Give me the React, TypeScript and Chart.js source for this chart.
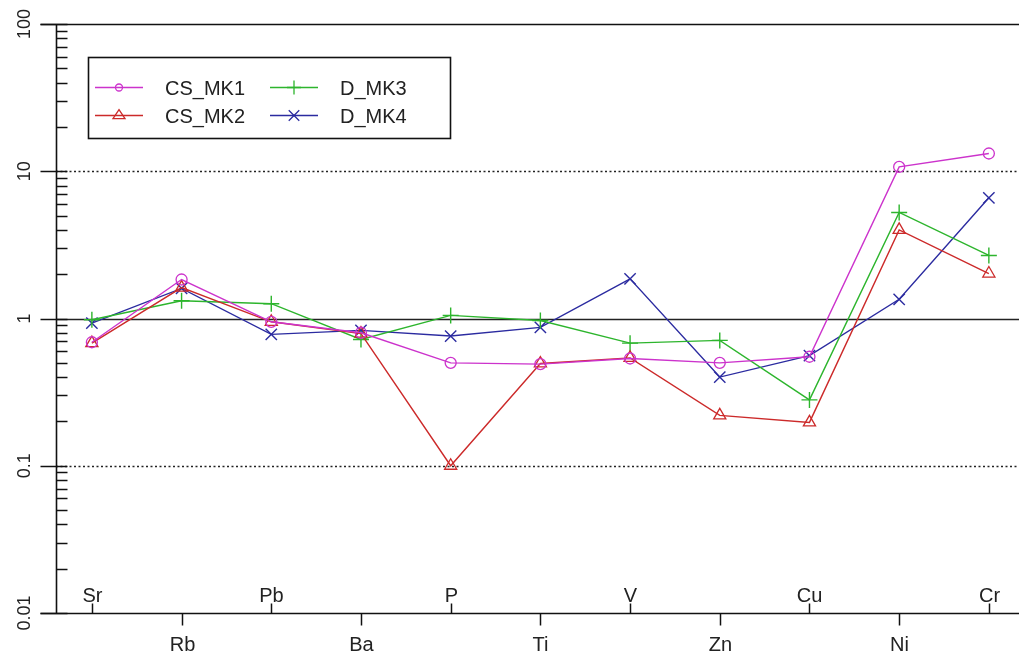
import React, { useEffect, useRef } from "react";
import { Chart, registerables } from "chart.js";
Chart.register(...registerables);

const categories = ["Sr", "Rb", "Pb", "Ba", "P", "Ti", "V", "Zn", "Cu", "Ni", "Cr"];
const csMk1 = [0.69, 1.84, 0.95, 0.8, 0.5, 0.49, 0.535, 0.5, 0.55, 10.7, 13.2];
const csMk2 = [0.68, 1.62, 0.95, 0.79, 0.1, 0.495, 0.54, 0.22, 0.197, 4.0, 2.02];
const dMk3 = [0.98, 1.32, 1.26, 0.72, 1.05, 0.97, 0.68, 0.71, 0.28, 5.25, 2.68];
const dMk4 = [0.93, 1.6, 0.78, 0.83, 0.76, 0.87, 1.86, 0.4, 0.56, 1.35, 6.6];
const seriesLabels = ["CS_MK1", "CS_MK2", "D_MK3", "D_MK4"];
const yTickValues = [0.01, 0.1, 1, 10, 100];
const yTickLabels = ["0.01", "0.1", "1", "10", "100"];
const dottedRefLines = [0.1, 10];
const solidRefLines = [1];

const FONT = '"Liberation Sans", Arial, sans-serif';

function drawMarker(ctx: CanvasRenderingContext2D, style: string, cx: number, cy: number, r: number, color: string) {
  ctx.save();
  ctx.strokeStyle = color;
  ctx.lineWidth = 1.3;
  ctx.beginPath();
  if (style === "circle") {
    ctx.arc(cx, cy, r, 0, Math.PI * 2);
  } else if (style === "triangle") {
    const h = r * 1.5;
    ctx.moveTo(cx, cy - h * 0.66);
    ctx.lineTo(cx + r, cy + h * 0.34);
    ctx.lineTo(cx - r, cy + h * 0.34);
    ctx.closePath();
  } else if (style === "cross") {
    ctx.moveTo(cx - r, cy);
    ctx.lineTo(cx + r, cy);
    ctx.moveTo(cx, cy - r);
    ctx.lineTo(cx, cy + r);
  } else {
    const d = r * 0.75;
    ctx.moveTo(cx - d, cy - d);
    ctx.lineTo(cx + d, cy + d);
    ctx.moveTo(cx + d, cy - d);
    ctx.lineTo(cx - d, cy + d);
  }
  ctx.stroke();
  ctx.restore();
}

const framePlugin = {
  id: "framePlugin",
  beforeDatasetsDraw(chart: any) {
    const { ctx, chartArea: a, scales } = chart;
    const x = scales.x;
    const y = scales.y;
    ctx.save();
    // reference lines
    ctx.strokeStyle = "#222";
    ctx.lineWidth = 1.3;
    ctx.setLineDash([2, 2.5]);
    dottedRefLines.forEach((v) => {
      const py = Math.round(y.getPixelForValue(v)) + 0.5;
      ctx.beginPath();
      ctx.moveTo(a.left, py);
      ctx.lineTo(a.right, py);
      ctx.stroke();
    });
    ctx.setLineDash([]);
    solidRefLines.forEach((v) => {
      const py = Math.round(y.getPixelForValue(v)) + 0.5;
      ctx.beginPath();
      ctx.moveTo(a.left, py);
      ctx.lineTo(a.right, py);
      ctx.stroke();
    });
    // axes
    ctx.strokeStyle = "#111";
    ctx.lineWidth = 1.6;
    const topY = Math.round(y.getPixelForValue(100)) + 0.5;
    const botY = Math.round(y.getPixelForValue(0.01)) + 0.5;
    const leftX = Math.round(a.left) + 0.5;
    ctx.beginPath();
    ctx.moveTo(leftX - 16, topY);
    ctx.lineTo(a.right, topY);
    ctx.moveTo(leftX - 16, botY);
    ctx.lineTo(a.right, botY);
    ctx.moveTo(leftX, topY);
    ctx.lineTo(leftX, botY);
    ctx.stroke();
    // y major ticks
    ctx.lineWidth = 1.5;
    yTickValues.forEach((v) => {
      const py = Math.round(y.getPixelForValue(v)) + 0.5;
      ctx.beginPath();
      ctx.moveTo(leftX - 16, py);
      ctx.lineTo(leftX + 11, py);
      ctx.stroke();
    });
    // y minor ticks (inside)
    for (let d = 0; d < yTickValues.length - 1; d++) {
      for (let m = 2; m <= 9; m++) {
        const v = yTickValues[d] * m;
        const py = Math.round(y.getPixelForValue(v)) + 0.5;
        ctx.beginPath();
        ctx.moveTo(leftX, py);
        ctx.lineTo(leftX + 11, py);
        ctx.stroke();
      }
    }
    // y labels (rotated)
    ctx.fillStyle = "#222";
    ctx.font = `18px ${FONT}`;
    ctx.textAlign = "center";
    ctx.textBaseline = "alphabetic";
    yTickValues.forEach((v, i) => {
      const py = y.getPixelForValue(v);
      ctx.save();
      ctx.translate(30, py);
      ctx.rotate(-Math.PI / 2);
      ctx.fillText(yTickLabels[i], 0, 0);
      ctx.restore();
    });
    // x ticks and labels
    ctx.font = `20px ${FONT}`;
    categories.forEach((c, i) => {
      const px = Math.round(x.getPixelForValue(i)) + 0.5;
      ctx.beginPath();
      if (i % 2 === 0) {
        ctx.moveTo(px, botY);
        ctx.lineTo(px, botY - 10);
        ctx.stroke();
        ctx.fillText(c, px, botY - 12);
      } else {
        ctx.moveTo(px, botY);
        ctx.lineTo(px, botY + 12);
        ctx.stroke();
        ctx.fillText(c, px, botY + 37);
      }
    });
    ctx.restore();
  },
  afterDraw(chart: any) {
    const { ctx } = chart;
    ctx.save();
    const bx = 88, by = 57, bw = 362, bh = 81;
    ctx.fillStyle = "#fff";
    ctx.fillRect(bx, by, bw, bh);
    ctx.strokeStyle = "#111";
    ctx.lineWidth = 1.6;
    ctx.strokeRect(bx + 0.5, by + 0.5, bw, bh);
    const cols = [{ lx: 95, tx: 165 }, { lx: 270, tx: 340 }];
    const rows = [87, 115];
    chart.data.datasets.forEach((ds: any, i: number) => {
      const col = cols[Math.floor(i / 2)];
      const ry = rows[i % 2];
      ctx.strokeStyle = ds.borderColor;
      ctx.lineWidth = 1.4;
      ctx.beginPath();
      ctx.moveTo(col.lx, ry + 0.5);
      ctx.lineTo(col.lx + 48, ry + 0.5);
      ctx.stroke();
      const mr = ds.pointStyle === "circle" ? 3.5 : ds.pointRadius - 1;
      drawMarker(ctx, ds.pointStyle, col.lx + 24, ry + 0.5, mr, ds.borderColor);
      ctx.fillStyle = "#222";
      ctx.font = `20px ${FONT}`;
      ctx.textAlign = "left";
      ctx.textBaseline = "alphabetic";
      ctx.fillText(ds.label, col.tx, ry + 8);
    });
    ctx.restore();
  },
};

const toPoints = (vals: number[]) => vals.map((v, i) => ({ x: i, y: v }));

export default function App() {
  const ref = useRef<HTMLCanvasElement | null>(null);
  useEffect(() => {
    if (!ref.current) return;
    const chart = new Chart(ref.current, {
      type: "line",
      data: {
        datasets: [
          {
            label: seriesLabels[0],
            data: toPoints(csMk1),
            borderColor: "#CC33CC",
            backgroundColor: "rgba(0,0,0,0)",
            pointStyle: "circle",
            pointRadius: 5.5,
            pointBorderWidth: 1.3,
            borderWidth: 1.4,
          },
          {
            label: seriesLabels[1],
            data: toPoints(csMk2),
            borderColor: "#CC2A2A",
            backgroundColor: "rgba(0,0,0,0)",
            pointStyle: "triangle",
            pointRadius: 7,
            pointBorderWidth: 1.3,
            borderWidth: 1.4,
          },
          {
            label: seriesLabels[2],
            data: toPoints(dMk3),
            borderColor: "#2DB52D",
            backgroundColor: "rgba(0,0,0,0)",
            pointStyle: "cross",
            pointRadius: 8,
            pointBorderWidth: 1.4,
            borderWidth: 1.4,
          },
          {
            label: seriesLabels[3],
            data: toPoints(dMk4),
            borderColor: "#2B2BA0",
            backgroundColor: "rgba(0,0,0,0)",
            pointStyle: "crossRot",
            pointRadius: 8,
            pointBorderWidth: 1.4,
            borderWidth: 1.4,
          },
        ],
      },
      options: {
        responsive: false,
        animation: false,
        events: [],
        layout: { autoPadding: false, padding: { left: 56, top: 24, right: 0, bottom: 39 } },
        clip: false as any,
        scales: {
          x: { type: "linear", min: -0.4, max: 10.336, display: false },
          y: { type: "logarithmic", min: 0.01, max: 100, display: false },
        },
        plugins: { legend: { display: false }, tooltip: { enabled: false } },
        elements: { line: { tension: 0 } },
      },
      plugins: [framePlugin],
    });
    return () => chart.destroy();
  }, []);
  return (
    <div style={{ position: "absolute", left: 0, top: 0, width: 1019, height: 652, background: "#fff" }}>
      <canvas ref={ref} width={1019} height={652} style={{ display: "block" }} />
    </div>
  );
}
